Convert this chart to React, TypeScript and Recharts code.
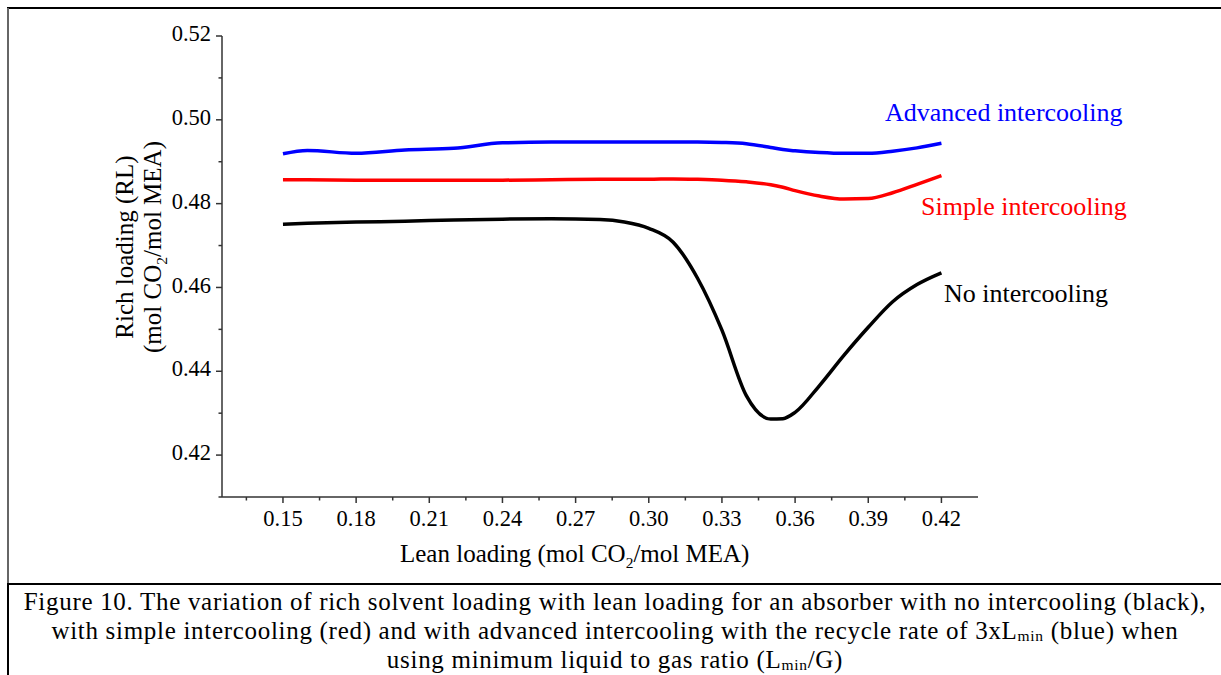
import React from "react";
import { Line, LineChart, XAxis, YAxis } from "recharts";

// lean loading (mol CO2/mol MEA)
const leanLoading = [
  0.15, 0.16, 0.18, 0.2, 0.22, 0.24, 0.26, 0.28, 0.29, 0.3, 0.31, 0.32, 0.33,
  0.34, 0.35, 0.355, 0.36, 0.37, 0.38, 0.39, 0.4, 0.41, 0.42,
];

const noIntercooling = [
  0.4751, 0.4753, 0.4756, 0.4758, 0.4761, 0.4763, 0.4764, 0.4762, 0.4756,
  0.4741, 0.4708, 0.4622, 0.4498, 0.4342, 0.4286, 0.4287, 0.4302, 0.4366,
  0.4438, 0.4505, 0.4566, 0.4607, 0.4635,
];

const simpleIntercooling = [
  0.4857, 0.4857, 0.4856, 0.4856, 0.4856, 0.4856, 0.4857, 0.4858, 0.4858,
  0.4858, 0.4859, 0.4858, 0.4856, 0.4852, 0.4845, 0.4839, 0.4831, 0.4818,
  0.4811, 0.4812, 0.4826, 0.4846, 0.4867,
];

const advancedIntercooling = [
  0.4919, 0.4927, 0.492, 0.4928, 0.4932, 0.4945, 0.4947, 0.4947, 0.4947,
  0.4947, 0.4947, 0.4947, 0.4946, 0.4943, 0.4934, 0.4929, 0.4926, 0.4922,
  0.492, 0.492, 0.4925, 0.4933, 0.4944,
];

const xMajorTicks = [0.15, 0.18, 0.21, 0.24, 0.27, 0.3, 0.33, 0.36, 0.39, 0.42];
const xMinorTicks = [0.135, 0.165, 0.195, 0.225, 0.255, 0.285, 0.315, 0.345, 0.375, 0.405];
const yMajorTicks = [0.42, 0.44, 0.46, 0.48, 0.5, 0.52];
const yMinorTicks = [0.41, 0.43, 0.45, 0.47, 0.49, 0.51];

const data = leanLoading.map((x, i) => ({
  x,
  none: noIntercooling[i],
  simple: simpleIntercooling[i],
  advanced: advancedIntercooling[i],
}));

const FONT = '"Liberation Serif", "Times New Roman", serif';
const AXIS_COLOR = "#333";
const TICK_FONT = 22.5;

const isMajor = (v: number, list: number[]) => list.some((t) => Math.abs(t - v) < 1e-6);

function XTick(props: any) {
  const { x, y, payload } = props;
  const major = isMajor(payload.value, xMajorTicks);
  return (
    <g>
      <line x1={x} x2={x} y1={y} y2={y + (major ? 6 : 3.5)} stroke={AXIS_COLOR} strokeWidth={1.5} />
      {major && (
        <text x={x} y={y + 24} textAnchor="middle" dominantBaseline="middle" fontFamily={FONT} fontSize={TICK_FONT} fill="#000">
          {payload.value.toFixed(2)}
        </text>
      )}
    </g>
  );
}

function YTick(props: any) {
  const { x, y, payload } = props;
  const major = isMajor(payload.value, yMajorTicks);
  return (
    <g>
      <line x1={x - (major ? 6 : 3.5)} x2={x} y1={y} y2={y} stroke={AXIS_COLOR} strokeWidth={1.5} />
      {major && (
        <text x={x - 11} y={y} textAnchor="end" dominantBaseline="middle" fontFamily={FONT} fontSize={TICK_FONT} fill="#000">
          {payload.value.toFixed(2)}
        </text>
      )}
    </g>
  );
}

const subStyle: React.CSSProperties = { fontSize: "0.62em", lineHeight: 0 };
const captionSub: React.CSSProperties = { fontSize: "0.62em", lineHeight: 0, verticalAlign: "-0.16em" };

export default function App() {
  return (
    <div style={{ position: "absolute", left: 0, top: 0, width: 1221, height: 675, background: "#fff", fontFamily: FONT, overflow: "hidden" }}>
      {/* frame */}
      <div style={{ position: "absolute", left: 7, top: 7, width: 1214, height: 2, background: "#000" }} />
      <div style={{ position: "absolute", left: 7, top: 8, width: 1.5, height: 576, background: "#666" }} />
      <div style={{ position: "absolute", left: 7, top: 583, width: 1214, height: 2, background: "#000" }} />
      <div style={{ position: "absolute", left: 7, top: 584, width: 1.5, height: 91, background: "#000" }} />

      <div style={{ position: "absolute", left: 0, top: 0 }}>
        <LineChart width={1221} height={580} data={data} margin={{ top: 36, right: 243, left: 162, bottom: 43 }}>
          <XAxis
            type="number"
            dataKey="x"
            domain={[0.125, 0.435]}
            ticks={[...xMajorTicks, ...xMinorTicks].sort((a, b) => a - b)}
            interval={0}
            tickSize={0}
            tickMargin={0}
            tick={<XTick />}
            height={40}
            stroke={AXIS_COLOR}
            strokeWidth={1.5}
            allowDataOverflow
          />
          <YAxis
            type="number"
            domain={[0.41, 0.52]}
            ticks={[...yMajorTicks, ...yMinorTicks].sort((a, b) => a - b)}
            interval={0}
            tickSize={0}
            tickMargin={0}
            tick={<YTick />}
            width={60}
            stroke={AXIS_COLOR}
            strokeWidth={1.5}
            allowDataOverflow
          />
          <Line type="monotone" dataKey="advanced" stroke="#0000ff" strokeWidth={3.5} dot={false} isAnimationActive={false} />
          <Line type="monotone" dataKey="simple" stroke="#ff0000" strokeWidth={3.5} dot={false} isAnimationActive={false} />
          <Line type="monotone" dataKey="none" stroke="#000000" strokeWidth={3.5} dot={false} isAnimationActive={false} />
        </LineChart>
      </div>

      {/* series labels */}
      <div style={{ position: "absolute", left: 885, top: 113, transform: "translateY(-50%)", lineHeight: 1, fontSize: 26, color: "#0000ff", whiteSpace: "nowrap" }}>Advanced intercooling</div>
      <div style={{ position: "absolute", left: 921, top: 207, transform: "translateY(-50%)", lineHeight: 1, fontSize: 26, color: "#ff0000", whiteSpace: "nowrap" }}>Simple intercooling</div>
      <div style={{ position: "absolute", left: 944, top: 294, transform: "translateY(-50%)", lineHeight: 1, fontSize: 26, color: "#000", whiteSpace: "nowrap" }}>No intercooling</div>

      {/* axis titles */}
      <div style={{ position: "absolute", left: 400, top: 553, transform: "translateY(-50%)", lineHeight: 1, fontSize: 25, whiteSpace: "nowrap" }}>
        Lean loading (mol CO<sub style={subStyle}>2</sub>/mol MEA)
      </div>
      <div
        style={{
          position: "absolute",
          left: 139,
          top: 247,
          transform: "translate(-50%, -50%) rotate(-90deg)",
          fontSize: 25,
          lineHeight: "28px",
          textAlign: "center",
          whiteSpace: "nowrap",
        }}
      >
        Rich loading (RL)
        <br />
        (mol CO<sub style={subStyle}>2</sub>/mol MEA)
      </div>

      {/* caption */}
      <div style={{ position: "absolute", left: 9, top: 587, width: 1212, textAlign: "center", fontSize: 25, lineHeight: "29px", letterSpacing: 0.7, whiteSpace: "nowrap" }}>
        Figure 10. The variation of rich solvent loading with lean loading for an absorber with no intercooling (black),
        <br />
        with simple intercooling (red) and with advanced intercooling with the recycle rate of 3xL<sub style={captionSub}>min</sub> (blue) when
        <br />
        using minimum liquid to gas ratio (L<sub style={captionSub}>min</sub>/G)
      </div>
    </div>
  );
}
